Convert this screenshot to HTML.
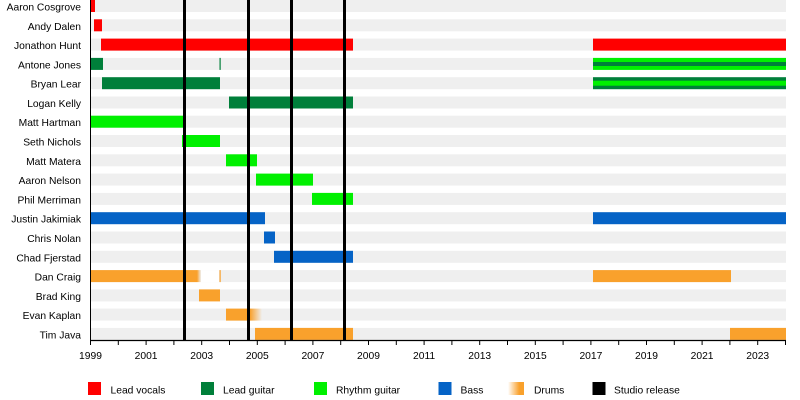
<!DOCTYPE html>
<html><head><meta charset="utf-8"><style>
html,body{margin:0;padding:0;background:#fff;}
svg{display:block;}
text{font-family:"Liberation Sans",Arial,sans-serif;font-size:10.3px;fill:#000;}
</style></head><body>
<svg width="800" height="400" viewBox="0 0 800 400" xmlns="http://www.w3.org/2000/svg">
<defs>
<linearGradient id="fadeR" x1="0" x2="1" y1="0" y2="0"><stop offset="0" stop-color="#f9a12c"/><stop offset="1" stop-color="#f9a12c" stop-opacity="0"/></linearGradient>
<linearGradient id="fadeL" x1="0" x2="1" y1="0" y2="0"><stop offset="0" stop-color="#f9a12c" stop-opacity="0"/><stop offset="0.7" stop-color="#f9a12c"/><stop offset="1" stop-color="#f9a12c"/></linearGradient>
</defs>
<!-- background bands -->
<g fill="#efefef">
<rect x="91" y="0" width="695" height="12"/>
<rect x="91" y="19.3" width="695" height="12"/>
<rect x="91" y="38.6" width="695" height="12"/>
<rect x="91" y="57.9" width="695" height="12"/>
<rect x="91" y="77.2" width="695" height="12"/>
<rect x="91" y="96.5" width="695" height="12"/>
<rect x="91" y="115.7" width="695" height="12"/>
<rect x="91" y="135" width="695" height="12"/>
<rect x="91" y="154.3" width="695" height="12"/>
<rect x="91" y="173.6" width="695" height="12"/>
<rect x="91" y="192.9" width="695" height="12"/>
<rect x="91" y="212.2" width="695" height="12"/>
<rect x="91" y="231.5" width="695" height="12"/>
<rect x="91" y="250.8" width="695" height="12"/>
<rect x="91" y="270.1" width="695" height="12"/>
<rect x="91" y="289.4" width="695" height="12"/>
<rect x="91" y="308.6" width="695" height="12"/>
<rect x="91" y="327.9" width="695" height="12"/>
</g>
<!-- white gaps -->
<g fill="#fff">
<rect x="201" y="270.1" width="18" height="12"/>
</g>
<!-- bars -->
<g>
<rect x="91" y="0" width="4" height="12" fill="#ff0000"/>
<rect x="94" y="19.3" width="8" height="12" fill="#ff0000"/>
<rect x="101" y="38.6" width="252" height="12" fill="#ff0000"/>
<rect x="593" y="38.6" width="193" height="12" fill="#ff0000"/>

<rect x="91" y="57.9" width="12" height="12" fill="#007f3a"/>
<rect x="219.5" y="57.9" width="1.2" height="12" fill="#007f3a"/>
<rect x="593" y="57.9" width="193" height="12" fill="#00f000"/>
<rect x="593" y="62" width="193" height="4" fill="#007f3a"/>

<rect x="102" y="77.2" width="118" height="12" fill="#007f3a"/>
<rect x="593" y="77.2" width="193" height="12" fill="#007f3a"/>
<rect x="593" y="80.7" width="193" height="5" fill="#00f000"/>

<rect x="229" y="96.5" width="124" height="12" fill="#007f3a"/>

<rect x="91" y="115.7" width="92" height="12" fill="#00f000"/>
<rect x="182" y="135" width="38" height="12" fill="#00f000"/>
<rect x="226" y="154.3" width="31" height="12" fill="#00f000"/>
<rect x="256" y="173.6" width="57" height="12" fill="#00f000"/>
<rect x="312" y="192.9" width="41" height="12" fill="#00f000"/>

<rect x="91" y="212.2" width="174" height="12" fill="#0563c6"/>
<rect x="593" y="212.2" width="193" height="12" fill="#0563c6"/>
<rect x="264" y="231.5" width="11" height="12" fill="#0563c6"/>
<rect x="274" y="250.8" width="79" height="12" fill="#0563c6"/>

<rect x="91" y="270.1" width="106" height="12" fill="#f9a12c"/>
<rect x="197" y="270.1" width="4" height="12" fill="url(#fadeR)"/>
<rect x="219.5" y="270.1" width="1.2" height="12" fill="#f9a12c"/>
<rect x="593" y="270.1" width="138" height="12" fill="#f9a12c"/>

<rect x="199" y="289.4" width="21" height="12" fill="#f9a12c"/>
<rect x="226" y="308.6" width="24" height="12" fill="#f9a12c"/>
<rect x="250" y="308.6" width="12" height="12" fill="url(#fadeR)"/>
<rect x="255" y="327.9" width="98" height="12" fill="#f9a12c"/>
<rect x="730" y="327.9" width="56" height="12" fill="#f9a12c"/>
</g>
<!-- studio release lines -->
<g fill="#000">
<rect x="183" y="0" width="3" height="341"/>
<rect x="247" y="0" width="3" height="341"/>
<rect x="290" y="0" width="3" height="341"/>
<rect x="343" y="0" width="3" height="341"/>
</g>
<!-- axes -->
<line x1="90.5" y1="0" x2="90.5" y2="341" stroke="#000" stroke-width="1"/>
<line x1="90" y1="340.5" x2="786" y2="340.5" stroke="#000" stroke-width="1.3"/>
<g stroke="#000" stroke-width="1">
<line x1="90.5" y1="340" x2="90.5" y2="345"/><line x1="118.3" y1="340" x2="118.3" y2="345"/><line x1="146.1" y1="340" x2="146.1" y2="345"/><line x1="173.9" y1="340" x2="173.9" y2="345"/><line x1="201.7" y1="340" x2="201.7" y2="345"/><line x1="229.5" y1="340" x2="229.5" y2="345"/><line x1="257.3" y1="340" x2="257.3" y2="345"/><line x1="285.1" y1="340" x2="285.1" y2="345"/><line x1="312.9" y1="340" x2="312.9" y2="345"/><line x1="340.7" y1="340" x2="340.7" y2="345"/><line x1="368.5" y1="340" x2="368.5" y2="345"/><line x1="396.3" y1="340" x2="396.3" y2="345"/><line x1="424.1" y1="340" x2="424.1" y2="345"/><line x1="451.9" y1="340" x2="451.9" y2="345"/><line x1="479.7" y1="340" x2="479.7" y2="345"/><line x1="507.5" y1="340" x2="507.5" y2="345"/><line x1="535.3" y1="340" x2="535.3" y2="345"/><line x1="563.1" y1="340" x2="563.1" y2="345"/><line x1="590.9" y1="340" x2="590.9" y2="345"/><line x1="618.7" y1="340" x2="618.7" y2="345"/><line x1="646.5" y1="340" x2="646.5" y2="345"/><line x1="674.3" y1="340" x2="674.3" y2="345"/><line x1="702.1" y1="340" x2="702.1" y2="345"/><line x1="729.9" y1="340" x2="729.9" y2="345"/><line x1="757.7" y1="340" x2="757.7" y2="345"/><line x1="785.5" y1="340" x2="785.5" y2="345"/>
</g>
<g text-anchor="middle">
<text x="90.5" y="359">1999</text><text x="146.1" y="359">2001</text><text x="201.7" y="359">2003</text><text x="257.3" y="359">2005</text><text x="312.9" y="359">2007</text><text x="368.5" y="359">2009</text><text x="424.1" y="359">2011</text><text x="479.7" y="359">2013</text><text x="535.3" y="359">2015</text><text x="590.9" y="359">2017</text><text x="646.5" y="359">2019</text><text x="702.1" y="359">2021</text><text x="757.7" y="359">2023</text>
</g>
<!-- row labels -->
<g text-anchor="end">
<text x="81" y="10.5">Aaron Cosgrove</text>
<text x="81" y="29.8">Andy Dalen</text>
<text x="81" y="49.1">Jonathon Hunt</text>
<text x="81" y="68.4">Antone Jones</text>
<text x="81" y="87.7">Bryan Lear</text>
<text x="81" y="107">Logan Kelly</text>
<text x="81" y="126.2">Matt Hartman</text>
<text x="81" y="145.5">Seth Nichols</text>
<text x="81" y="164.8">Matt Matera</text>
<text x="81" y="184.1">Aaron Nelson</text>
<text x="81" y="203.4">Phil Merriman</text>
<text x="81" y="222.7">Justin Jakimiak</text>
<text x="81" y="242">Chris Nolan</text>
<text x="81" y="261.3">Chad Fjerstad</text>
<text x="81" y="280.6">Dan Craig</text>
<text x="81" y="299.9">Brad King</text>
<text x="81" y="319.1">Evan Kaplan</text>
<text x="81" y="338.4">Tim Java</text>
</g>
<!-- legend -->
<rect x="88" y="382" width="13" height="13" fill="#ff0000"/>
<text x="110.5" y="393.5">Lead vocals</text>
<rect x="201" y="382" width="13" height="13" fill="#007f3a"/>
<text x="223" y="393.5">Lead guitar</text>
<rect x="314" y="382" width="13" height="13" fill="#00f000"/>
<text x="336" y="393.5">Rhythm guitar</text>
<rect x="438.5" y="382" width="13" height="13" fill="#0563c6"/>
<text x="460.5" y="393.5">Bass</text>
<rect x="508" y="382" width="16" height="13" fill="url(#fadeL)"/>
<text x="534" y="393.5">Drums</text>
<rect x="592.5" y="382" width="13" height="13" fill="#000"/>
<text x="614" y="393.5">Studio release</text>
</svg>
</body></html>
